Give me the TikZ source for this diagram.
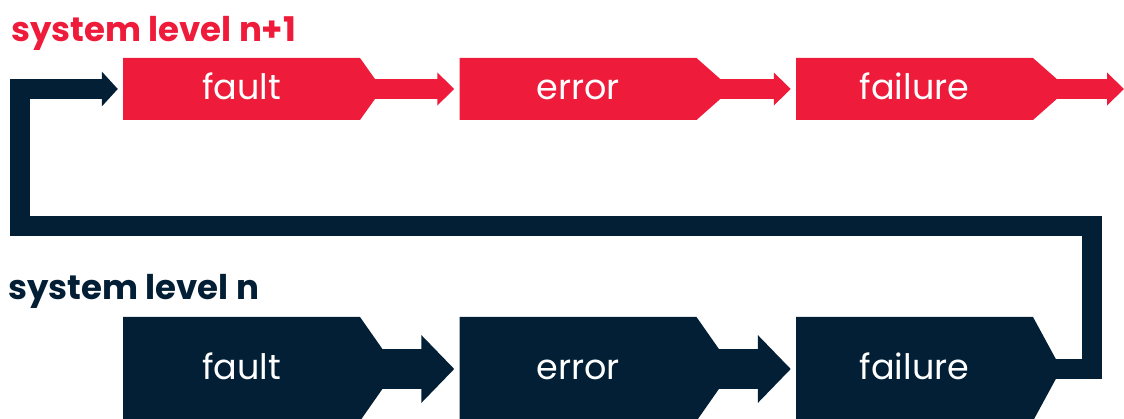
\documentclass[tikz,border=0pt]{standalone}
\usepackage{fontspec}
\setmainfont{Poppins}
\usetikzlibrary{arrows.meta, shapes.symbols}
\definecolor{levelRed}{RGB}{238, 28, 58}
\definecolor{levelNavy}{RGB}{2, 31, 53}

\begin{document}
\begin{tikzpicture}[x=1pt, y=-1pt,
    stage/.style={shape=signal, signal to=east, inner sep=0pt, text width=237pt, align=center,
      text height=22pt, text depth=0pt, text=white, font=\fontsize{35}{40}\selectfont},
    upper/.style={stage, fill=levelRed, minimum height=62pt},
    lower/.style={stage, fill=levelNavy, minimum height=104pt},
    title/.style={anchor=base west, inner sep=0pt, font=\fontsize{34}{40}\selectfont\bfseries},
    thinflow/.style={levelRed, line width=20pt, -{Triangle[width=32pt, length=17pt]}, shorten >=5pt},
    thickflow/.style={levelNavy, line width=40pt, -{Triangle[width=66pt, length=33pt]}, shorten >=5pt}]
  \useasboundingbox (0,0) rectangle (1124,419);

  % level n+1
  \node[title, text=levelRed] (titleUp) at (11,42) {system level n+1};
  \node[upper, signal pointer angle=109] (faultUp) at (241.5,89) {fault};
  \node[upper, signal pointer angle=83] (errorUp) at (578,89) {error};
  \node[upper, signal pointer angle=83] (failUp) at (914.5,89) {failure};
  \coordinate (exitUp) at (1129,89);

  % level n
  \node[title, text=levelNavy] (titleLow) at (8,300) {system level n};
  \node[lower, signal pointer angle=110] (faultLow) at (241.5,369) {fault};
  \node[lower, signal pointer angle=110] (errorLow) at (578,369) {error};
  \node[lower, signal pointer angle=123] (failLow) at (914.5,369) {failure};

  % fault -> error -> failure
  \draw[thinflow] ([xshift=-20pt]faultUp.east) -- (errorUp.west);
  \draw[thinflow] ([xshift=-20pt]errorUp.east) -- (failUp.west);
  \draw[thinflow] ([xshift=-20pt]failUp.east) -- (exitUp);
  \draw[thickflow] ([xshift=-20pt]faultLow.east) -- (errorLow.west);
  \draw[thickflow] ([xshift=-20pt]errorLow.east) -- (failLow.west);

  % failure at level n becomes a fault one level up
  \coordinate (turnR) at (1092,226);
  \coordinate (turnL) at (20,226);
  \draw[levelNavy, line width=20pt, line join=miter, -{Triangle[width=34pt, length=16pt]}, shorten >=5pt]
    ([xshift=-20pt]failLow.east) -- (failLow.east -| turnR) -- (turnR) -- (turnL)
    -- (turnL |- faultUp.west) -- (faultUp.west);
\end{tikzpicture}
\end{document}
